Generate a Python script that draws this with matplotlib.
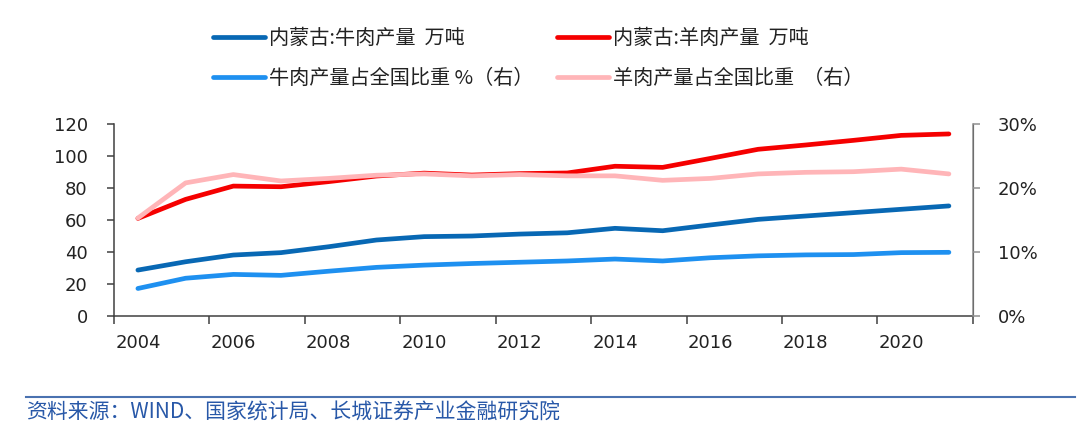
import matplotlib
matplotlib.use('Agg')
import matplotlib.pyplot as plt
from matplotlib.lines import Line2D
from matplotlib.ticker import FixedLocator, FuncFormatter

YEARS = list(range(2004, 2022))
BEEF_OUTPUT = [28.7, 33.9, 38.1, 39.6, 43.3, 47.5, 49.6, 50.0, 51.2, 52.0,
               54.8, 53.3, 56.9, 60.4, 62.5, 64.6, 66.7, 68.8]
MUTTON_OUTPUT = [61.0, 72.9, 81.2, 80.8, 84.0, 87.5, 89.3, 88.1, 89.0, 89.4,
                 93.6, 92.9, 98.5, 104.2, 106.9, 109.8, 112.9, 113.8]
BEEF_SHARE = [4.3, 5.9, 6.5, 6.35, 7.0, 7.6, 7.95, 8.2, 8.4, 8.6,
              8.9, 8.6, 9.1, 9.4, 9.55, 9.6, 9.9, 9.95]
MUTTON_SHARE = [15.3, 20.8, 22.1, 21.1, 21.5, 22.0, 22.2, 21.9, 22.1, 21.9,
                21.9, 21.2, 21.5, 22.2, 22.45, 22.55, 22.95, 22.2]

LABELS = ['内蒙古:牛肉产量  万吨', '牛肉产量占全国比重 %（右）',
          '内蒙古:羊肉产量  万吨', '羊肉产量占全国比重  （右）']
SOURCE = '资料来源：WIND、国家统计局、长城证券产业金融研究院'

CJK = ['Noto Sans CJK SC', 'DejaVu Sans']
plt.rcParams['font.family'] = ['DejaVu Sans']

fig = plt.figure(figsize=(10.8, 4.37), dpi=100)
ax = fig.add_axes([0.1056, 0.2769, 0.7951, 0.4393])
ax2 = ax.twinx()

x = list(range(len(YEARS)))
lw = 3.4
l1, = ax.plot(x, BEEF_OUTPUT, color='#0868B4', lw=lw, solid_capstyle='round', solid_joinstyle='round')
l3, = ax.plot(x, MUTTON_OUTPUT, color='#F50000', lw=lw, solid_capstyle='round', solid_joinstyle='round')
l2, = ax2.plot(x, BEEF_SHARE, color='#1E90F0', lw=lw, solid_capstyle='round', solid_joinstyle='round')
l4, = ax2.plot(x, MUTTON_SHARE, color='#FFB5B8', lw=lw, solid_capstyle='round', solid_joinstyle='round')

ax.set_xlim(-0.5, len(YEARS) - 0.5)
ax.set_ylim(0, 120)
ax2.set_ylim(0, 30)
ax.set_yticks(range(0, 121, 20))
ax2.set_yticks(range(0, 31, 10))
ax2.yaxis.set_major_formatter(FuncFormatter(lambda v, p: f'{v:.0f}%'))

# group boundary ticks without labels, year labels on every other category
ax.xaxis.set_major_locator(FixedLocator([i - 0.5 for i in range(0, len(YEARS) + 1, 2)]))
ax.xaxis.set_minor_locator(FixedLocator(list(range(0, len(YEARS), 2))))
ax.set_xticklabels([])
ax.set_xticklabels([str(YEARS[i]) for i in range(0, len(YEARS), 2)], minor=True)
ax.tick_params(axis='x', which='major', length=6, width=1.1, color='#404040', direction='out')
ax.tick_params(axis='x', which='minor', length=0, pad=13, labelsize=13, labelcolor='#222222')
ax.tick_params(axis='y', length=5, width=1.1, color='#404040', pad=14, labelsize=13, labelcolor='#222222')
ax2.tick_params(axis='y', length=5, width=1.1, color='#909090', pad=13, labelsize=13, labelcolor='#222222')

for a in (ax, ax2):
    a.spines['top'].set_visible(False)
ax.spines['left'].set_color('#404040')
ax.spines['bottom'].set_color('#404040')
ax.spines['left'].set_linewidth(1.1)
ax.spines['bottom'].set_linewidth(1.1)
ax2.spines['left'].set_visible(False)
ax2.spines['bottom'].set_visible(False)
ax2.spines['right'].set_color('#909090')
ax2.spines['right'].set_linewidth(1.1)

leg = fig.legend([l1, l2, l3, l4], LABELS, ncol=2, loc='upper left',
                 bbox_to_anchor=(0.197, 0.936), frameon=False, borderpad=0,
                 borderaxespad=0, handlelength=2.6, handletextpad=0.2,
                 columnspacing=1.15, labelspacing=0.95,
                 prop={'family': CJK, 'size': 14.5})
for t in leg.get_texts():
    t.set_color('#222222')

fig.add_artist(Line2D([0.024, 0.995], [1 - 397 / 437] * 2, color='#4A72B0', lw=1.5))
fig.text(0.024, 1 - 413 / 437, SOURCE, family=CJK, fontsize=15, color='#2858A8',
         ha='left', va='center')

fig.savefig('out.png', dpi=100)
